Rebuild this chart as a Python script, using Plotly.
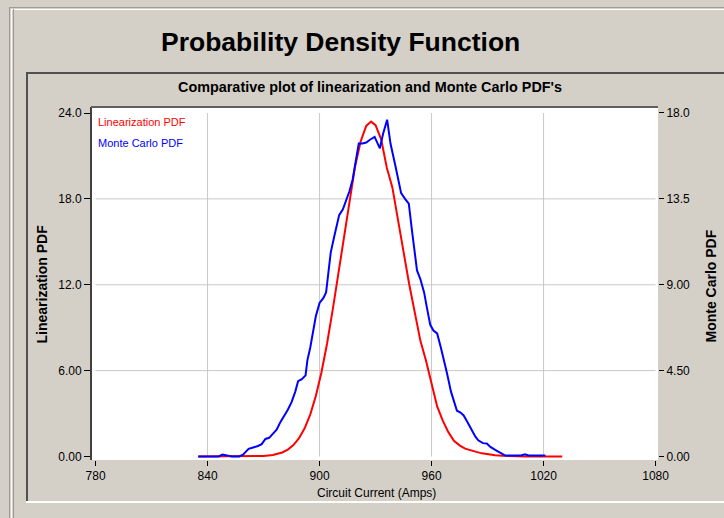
import plotly.graph_objects as go

# ---- data -------------------------------------------------------------
# Linearization PDF (left axis)
lin_current = [835, 845, 855, 865, 870, 875, 880, 883, 886, 889, 892, 895, 898,
               901, 904, 907, 910, 913, 916, 919, 922, 925, 927.6, 930, 933,
               936, 939, 942, 945, 948, 951, 954, 957, 960, 963, 966, 969, 972,
               975, 978, 981, 984, 987, 990, 994, 998, 1003, 1010, 1030]
lin_pdf = [0.00, 0.00, 0.00, 0.01, 0.04, 0.11, 0.28, 0.48, 0.80, 1.28, 1.97,
           2.93, 4.23, 5.87, 7.88, 10.21, 12.78, 15.43, 17.99, 20.25, 22.01,
           23.10, 23.40, 23.15, 22.16, 20.20, 18.80, 16.40, 14.30, 12.05,
           10.10, 8.10, 6.70, 5.10, 3.50, 2.50, 1.70, 1.10, 0.78, 0.55, 0.42,
           0.32, 0.22, 0.15, 0.09, 0.05, 0.02, 0.00, 0.00]

# Monte Carlo PDF (right axis)
mc_current = [835, 846, 848, 851, 853, 857, 859, 862, 864, 867, 869, 871, 873,
              875, 877, 879, 881, 883, 885, 887, 888.5, 890.5, 892.5, 893.5,
              895, 896.5, 898, 900, 902, 903.5, 904.5, 906, 907.8, 909.5,
              910.5, 912.5, 914, 916, 917.7, 919.5, 921, 923, 925, 927, 929.5,
              932.3, 934, 936.2, 938, 940.7, 942.3, 943.7, 945.8, 947.8, 949.5,
              950.9, 952.2, 954, 956, 957.5, 959.3, 961, 963, 965, 966.5,
              968.3, 970.4, 972.4, 973.6, 975.5, 977.2, 979.5, 981.6, 983.4,
              985, 987.5, 989.6, 991.5, 995, 997.5, 999.5, 1003, 1008, 1010,
              1012, 1016, 1021]
mc_pdf = [0.00, 0.00, 0.10, 0.05, 0.00, 0.00, 0.10, 0.40, 0.45, 0.55, 0.65,
          0.92, 0.98, 1.20, 1.40, 1.80, 2.10, 2.45, 2.85, 3.40, 3.95, 4.05,
          4.25, 5.05, 5.70, 6.50, 7.35, 8.05, 8.30, 8.60, 9.60, 10.70, 11.50,
          12.30, 12.65, 12.95, 13.35, 13.90, 14.50, 15.50, 16.40, 16.40,
          16.45, 16.60, 16.75, 16.15, 16.90, 17.65, 16.40, 15.20, 14.40,
          13.80, 13.50, 13.25, 11.85, 10.90, 9.75, 9.30, 8.60, 7.80, 6.90,
          6.60, 6.45, 5.70, 5.00, 4.35, 3.40, 2.80, 2.40, 2.30, 2.15, 1.75,
          1.35, 1.05, 0.85, 0.70, 0.68, 0.50, 0.30, 0.15, 0.05, 0.05, 0.05,
          0.12, 0.05, 0.05, 0.05]

x_ticks = [780, 840, 900, 960, 1020, 1080]
x_tick_labels = ["780", "840", "900", "960", "1020", "1080"]
left_ticks = [0, 6, 12, 18, 24]
left_tick_labels = ["0.00", "6.00", "12.0", "18.0", "24.0"]
right_ticks = [0, 4.5, 9, 13.5, 18]
right_tick_labels = ["0.00", "4.50", "9.00", "13.5", "18.0"]

# ---- page geometry (pixels) -------------------------------------------
W, H = 724, 518
L, R, T, B = 92, 66, 107, 58
PW, PH = W - L - R, H - T - B

def px(x):
    return (x - L) / PW

def py(y):
    return (H - B - y) / PH

BG = "#D4D0C8"
SANS = "Liberation Sans, Arial, sans-serif"

fig = go.Figure()
fig.add_trace(go.Scatter(x=lin_current, y=lin_pdf, mode="lines",
                         line=dict(color="#FF0000", width=2), yaxis="y",
                         name="Linearization PDF"))
fig.add_trace(go.Scatter(x=mc_current, y=mc_pdf, mode="lines",
                         line=dict(color="#0000FF", width=2), yaxis="y2",
                         name="Monte Carlo PDF"))

shapes = []
# grid lines spanning the labelled data range
for xv in x_ticks[1:-1]:
    shapes.append(dict(type="line", xref="x", yref="y", x0=xv, x1=xv,
                       y0=left_ticks[0], y1=left_ticks[-1], layer="below",
                       line=dict(color="#C8C8C8", width=1)))
for yv in left_ticks[1:-1]:
    shapes.append(dict(type="line", xref="x", yref="y", x0=x_ticks[0],
                       x1=x_ticks[-1], y0=yv, y1=yv, layer="below",
                       line=dict(color="#C8C8C8", width=1)))

def hline(y, x0, x1, color, width=1):
    shapes.append(dict(type="line", xref="paper", yref="paper",
                       x0=px(x0), x1=px(x1), y0=py(y), y1=py(y),
                       line=dict(color=color, width=width), layer="above"))

def vline(x, y0, y1, color, width=1):
    shapes.append(dict(type="line", xref="paper", yref="paper",
                       x0=px(x), x1=px(x), y0=py(y0), y1=py(y1),
                       line=dict(color=color, width=width), layer="above"))

# outer panel border
hline(7.5, 9, W, "#A09C94")
hline(9.5, 11, W, "#FFFFFF")
vline(9.5, 7, H, "#A09C94")
vline(11.5, 9, H, "#FFFFFF")
vline(13.5, 9, H, "#A09C94")
# inner sunken frame
hline(73, 26, W, "#505050", 2)
vline(27, 72, 502, "#505050", 2)
hline(502, 26, W, "#FFFFFF", 2)
# top edge of the plotting area
hline(107, 91, 658, "#606060", 2)

annotations = [
    dict(text="Probability Density Function", x=px(340.5), y=py(42),
         xref="paper", yref="paper", showarrow=False, xanchor="center",
         yanchor="middle", font=dict(family=SANS, size=26.5, color="#000000",
                                     weight="bold")),
    dict(text="Comparative plot of linearization and Monte Carlo PDF's",
         x=px(369.5), y=py(87), xref="paper", yref="paper", showarrow=False,
         xanchor="center", yanchor="middle",
         font=dict(family=SANS, size=14.4, color="#000000", weight="bold")),
    dict(text="Linearization PDF", x=px(41.5), y=py(284), xref="paper",
         yref="paper", showarrow=False, textangle=-90, xanchor="center",
         yanchor="middle",
         font=dict(family=SANS, size=14, color="#000000", weight="bold")),
    dict(text="Monte Carlo PDF", x=px(710), y=py(286.5), xref="paper",
         yref="paper", showarrow=False, textangle=-90, xanchor="center",
         yanchor="middle",
         font=dict(family=SANS, size=14, color="#000000", weight="bold")),
    dict(text="Circuit Current (Amps)", x=px(376), y=py(493), xref="paper",
         yref="paper", showarrow=False, xanchor="center", yanchor="middle",
         font=dict(family=SANS, size=12, color="#000000")),
    dict(text="Linearization PDF", x=px(96), y=py(122), xref="paper",
         yref="paper", showarrow=False, xanchor="left", yanchor="middle",
         font=dict(family=SANS, size=11, color="#FF0000")),
    dict(text="Monte Carlo PDF", x=px(96), y=py(142.5), xref="paper",
         yref="paper", showarrow=False, xanchor="left", yanchor="middle",
         font=dict(family=SANS, size=11, color="#0000FF")),
]

fig.update_layout(
    width=W, height=H,
    margin=dict(l=L, r=R, t=T, b=B, pad=0),
    paper_bgcolor=BG, plot_bgcolor="#FFFFFF",
    showlegend=False,
    shapes=shapes,
    annotations=annotations,
    xaxis=dict(range=[778.1, 1081.3], tickvals=x_ticks, ticktext=x_tick_labels,
               showgrid=False, zeroline=False, showline=False,
               ticks="outside", ticklen=5, tickwidth=1, tickcolor="#000000",
               tickfont=dict(family=SANS, size=12, color="#000000"),
               fixedrange=True),
    yaxis=dict(range=[-0.245, 24.42], tickvals=left_ticks,
               ticktext=left_tick_labels, showgrid=False, zeroline=False,
               showline=True, linecolor="#404040", linewidth=2,
               ticks="outside", ticklen=6, tickwidth=1, tickcolor="#000000",
               tickfont=dict(family=SANS, size=12, color="#000000"),
               fixedrange=True),
    yaxis2=dict(range=[-0.183, 18.314], tickvals=right_ticks,
                ticktext=right_tick_labels, overlaying="y", side="right",
                showgrid=False, zeroline=False, showline=False,
                ticks="outside", ticklen=5, tickwidth=1, tickcolor="#000000",
                tickfont=dict(family=SANS, size=12, color="#000000"),
                fixedrange=True),
)

fig.write_html("out.html", config={"displayModeBar": False})
